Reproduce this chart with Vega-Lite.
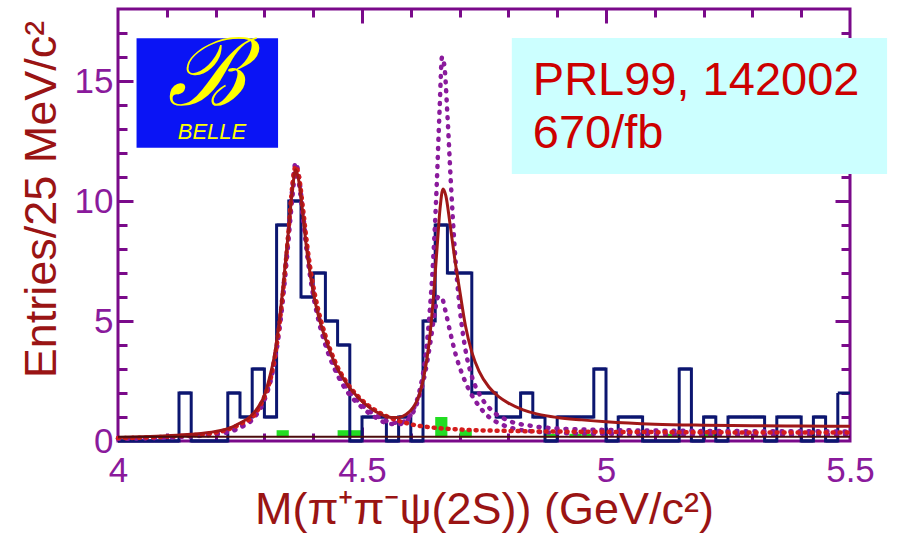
{
  "$schema": "https://vega.github.io/schema/vega-lite/v6.json",
  "width": 732,
  "height": 432,
  "autosize": {"type": "none"},
  "padding": {"left": 118, "top": 9, "right": 47, "bottom": 92},
  "background": "white",
  "config": {
    "view": {"stroke": "#7a0a8a", "strokeWidth": 3},
    "axis": {
      "grid": false,
      "domain": false,
      "labelFont": "Liberation Sans",
      "labelFontSize": 35,
      "labelColor": "#8a1a9c",
      "titleFont": "Liberation Sans",
      "titleFontSize": 45,
      "titleFontWeight": "normal",
      "titleColor": "#9a1414",
      "tickColor": "#7a0a8a",
      "tickWidth": 3
    }
  },
  "resolve": {"axis": {"x": "independent", "y": "independent"}},
  "datasets": {
    "hist": [
      {"m": 4.000, "m2": 4.025, "v": 0}, {"m": 4.025, "m2": 4.050, "v": 0},
      {"m": 4.050, "m2": 4.075, "v": 0}, {"m": 4.075, "m2": 4.100, "v": 0},
      {"m": 4.100, "m2": 4.125, "v": 0}, {"m": 4.125, "m2": 4.150, "v": 2},
      {"m": 4.150, "m2": 4.175, "v": 0}, {"m": 4.175, "m2": 4.200, "v": 0},
      {"m": 4.200, "m2": 4.225, "v": 0}, {"m": 4.225, "m2": 4.250, "v": 2},
      {"m": 4.250, "m2": 4.275, "v": 1}, {"m": 4.275, "m2": 4.300, "v": 3},
      {"m": 4.300, "m2": 4.325, "v": 1}, {"m": 4.325, "m2": 4.350, "v": 9},
      {"m": 4.350, "m2": 4.375, "v": 10}, {"m": 4.375, "m2": 4.400, "v": 6},
      {"m": 4.400, "m2": 4.425, "v": 7}, {"m": 4.425, "m2": 4.450, "v": 5},
      {"m": 4.450, "m2": 4.475, "v": 4}, {"m": 4.475, "m2": 4.500, "v": 0},
      {"m": 4.500, "m2": 4.525, "v": 1}, {"m": 4.525, "m2": 4.550, "v": 1},
      {"m": 4.550, "m2": 4.575, "v": 0}, {"m": 4.575, "m2": 4.600, "v": 1},
      {"m": 4.600, "m2": 4.625, "v": 0}, {"m": 4.625, "m2": 4.650, "v": 5},
      {"m": 4.650, "m2": 4.675, "v": 9}, {"m": 4.675, "m2": 4.700, "v": 7},
      {"m": 4.700, "m2": 4.725, "v": 7}, {"m": 4.725, "m2": 4.750, "v": 2},
      {"m": 4.750, "m2": 4.775, "v": 2}, {"m": 4.775, "m2": 4.800, "v": 1},
      {"m": 4.800, "m2": 4.825, "v": 1}, {"m": 4.825, "m2": 4.850, "v": 2},
      {"m": 4.850, "m2": 4.875, "v": 1}, {"m": 4.875, "m2": 4.900, "v": 0},
      {"m": 4.900, "m2": 4.925, "v": 1}, {"m": 4.925, "m2": 4.950, "v": 1},
      {"m": 4.950, "m2": 4.975, "v": 1}, {"m": 4.975, "m2": 5.000, "v": 3},
      {"m": 5.000, "m2": 5.025, "v": 0}, {"m": 5.025, "m2": 5.050, "v": 1},
      {"m": 5.050, "m2": 5.075, "v": 1}, {"m": 5.075, "m2": 5.100, "v": 0},
      {"m": 5.100, "m2": 5.125, "v": 0}, {"m": 5.125, "m2": 5.150, "v": 0},
      {"m": 5.150, "m2": 5.175, "v": 3}, {"m": 5.175, "m2": 5.200, "v": 0},
      {"m": 5.200, "m2": 5.225, "v": 1}, {"m": 5.225, "m2": 5.250, "v": 0},
      {"m": 5.250, "m2": 5.275, "v": 1}, {"m": 5.275, "m2": 5.300, "v": 1},
      {"m": 5.300, "m2": 5.325, "v": 1}, {"m": 5.325, "m2": 5.350, "v": 0},
      {"m": 5.350, "m2": 5.375, "v": 1}, {"m": 5.375, "m2": 5.400, "v": 1},
      {"m": 5.400, "m2": 5.425, "v": 0}, {"m": 5.425, "m2": 5.450, "v": 1},
      {"m": 5.450, "m2": 5.475, "v": 0}, {"m": 5.475, "m2": 5.500, "v": 2}
    ],
    "sideband": [
      {"m": 4.325, "m2": 4.350, "v": 0.45}, {"m": 4.450, "m2": 4.475, "v": 0.45},
      {"m": 4.475, "m2": 4.500, "v": 0.45}, {"m": 4.650, "m2": 4.675, "v": 1.0},
      {"m": 4.700, "m2": 4.725, "v": 0.45}, {"m": 4.875, "m2": 4.900, "v": 0.3},
      {"m": 4.925, "m2": 4.950, "v": 0.3}, {"m": 4.950, "m2": 4.975, "v": 0.3},
      {"m": 5.125, "m2": 5.150, "v": 0.3}, {"m": 5.200, "m2": 5.225, "v": 0.3}
    ],
    "fit": [
      {"m": 4.000, "v": 0.15}, {"m": 4.050, "v": 0.18}, {"m": 4.100, "v": 0.22},
      {"m": 4.150, "v": 0.28}, {"m": 4.200, "v": 0.40}, {"m": 4.230, "v": 0.55},
      {"m": 4.250, "v": 0.75}, {"m": 4.270, "v": 1.00}, {"m": 4.290, "v": 1.50},
      {"m": 4.300, "v": 1.90}, {"m": 4.310, "v": 2.60}, {"m": 4.320, "v": 3.50},
      {"m": 4.330, "v": 4.90}, {"m": 4.340, "v": 6.80}, {"m": 4.350, "v": 8.90},
      {"m": 4.357, "v": 10.40}, {"m": 4.364, "v": 11.30}, {"m": 4.370, "v": 10.90},
      {"m": 4.378, "v": 9.60}, {"m": 4.386, "v": 8.10}, {"m": 4.395, "v": 6.80},
      {"m": 4.405, "v": 5.70}, {"m": 4.415, "v": 4.90}, {"m": 4.428, "v": 4.10},
      {"m": 4.445, "v": 3.20}, {"m": 4.465, "v": 2.50}, {"m": 4.490, "v": 1.85},
      {"m": 4.515, "v": 1.40}, {"m": 4.540, "v": 1.10}, {"m": 4.560, "v": 0.98},
      {"m": 4.575, "v": 0.98}, {"m": 4.590, "v": 1.10}, {"m": 4.605, "v": 1.40},
      {"m": 4.617, "v": 1.90}, {"m": 4.627, "v": 2.70}, {"m": 4.637, "v": 4.00},
      {"m": 4.646, "v": 5.90}, {"m": 4.654, "v": 8.10}, {"m": 4.660, "v": 9.70},
      {"m": 4.666, "v": 10.50}, {"m": 4.672, "v": 10.20}, {"m": 4.680, "v": 9.10},
      {"m": 4.690, "v": 7.60}, {"m": 4.700, "v": 6.30}, {"m": 4.712, "v": 4.80},
      {"m": 4.725, "v": 3.70}, {"m": 4.740, "v": 2.90}, {"m": 4.760, "v": 2.25},
      {"m": 4.780, "v": 1.85}, {"m": 4.800, "v": 1.58}, {"m": 4.830, "v": 1.30},
      {"m": 4.860, "v": 1.12}, {"m": 4.900, "v": 0.98}, {"m": 4.950, "v": 0.88},
      {"m": 5.000, "v": 0.80}, {"m": 5.100, "v": 0.70}, {"m": 5.200, "v": 0.66},
      {"m": 5.300, "v": 0.64}, {"m": 5.400, "v": 0.62}, {"m": 5.500, "v": 0.61}
    ],
    "solutionA": [
      {"m": 4.000, "v": 0.10}, {"m": 4.100, "v": 0.15}, {"m": 4.200, "v": 0.30},
      {"m": 4.250, "v": 0.60}, {"m": 4.280, "v": 1.10}, {"m": 4.300, "v": 1.80},
      {"m": 4.315, "v": 2.80}, {"m": 4.328, "v": 4.40}, {"m": 4.340, "v": 6.60},
      {"m": 4.350, "v": 8.80}, {"m": 4.357, "v": 10.50}, {"m": 4.364, "v": 11.60},
      {"m": 4.371, "v": 11.00}, {"m": 4.379, "v": 9.50}, {"m": 4.388, "v": 7.90},
      {"m": 4.398, "v": 6.50}, {"m": 4.410, "v": 5.30}, {"m": 4.425, "v": 4.20},
      {"m": 4.445, "v": 3.10}, {"m": 4.470, "v": 2.20}, {"m": 4.500, "v": 1.50},
      {"m": 4.530, "v": 1.05}, {"m": 4.555, "v": 0.80}, {"m": 4.575, "v": 0.75},
      {"m": 4.592, "v": 0.90}, {"m": 4.605, "v": 1.30}, {"m": 4.618, "v": 2.10},
      {"m": 4.628, "v": 3.20}, {"m": 4.638, "v": 5.20}, {"m": 4.646, "v": 7.60},
      {"m": 4.653, "v": 10.60}, {"m": 4.659, "v": 13.80}, {"m": 4.664, "v": 16.00},
      {"m": 4.669, "v": 15.60}, {"m": 4.675, "v": 13.60}, {"m": 4.682, "v": 10.80},
      {"m": 4.690, "v": 8.00}, {"m": 4.700, "v": 5.60}, {"m": 4.712, "v": 3.80},
      {"m": 4.725, "v": 2.70}, {"m": 4.745, "v": 1.80}, {"m": 4.770, "v": 1.20},
      {"m": 4.800, "v": 0.85}, {"m": 4.850, "v": 0.62}, {"m": 4.900, "v": 0.52},
      {"m": 5.000, "v": 0.46}, {"m": 5.200, "v": 0.42}, {"m": 5.500, "v": 0.40}
    ],
    "solutionB": [
      {"m": 4.000, "v": 0.10}, {"m": 4.100, "v": 0.15}, {"m": 4.200, "v": 0.28},
      {"m": 4.250, "v": 0.55}, {"m": 4.280, "v": 1.00}, {"m": 4.300, "v": 1.70},
      {"m": 4.315, "v": 2.70}, {"m": 4.328, "v": 4.20}, {"m": 4.340, "v": 6.30},
      {"m": 4.350, "v": 8.50}, {"m": 4.357, "v": 10.10}, {"m": 4.364, "v": 11.20},
      {"m": 4.371, "v": 10.70}, {"m": 4.379, "v": 9.30}, {"m": 4.388, "v": 7.70},
      {"m": 4.398, "v": 6.30}, {"m": 4.410, "v": 5.10}, {"m": 4.425, "v": 4.00},
      {"m": 4.445, "v": 2.95}, {"m": 4.470, "v": 2.05}, {"m": 4.500, "v": 1.40},
      {"m": 4.530, "v": 0.95}, {"m": 4.555, "v": 0.72}, {"m": 4.575, "v": 0.70},
      {"m": 4.592, "v": 0.85}, {"m": 4.605, "v": 1.20}, {"m": 4.618, "v": 1.90},
      {"m": 4.630, "v": 2.90}, {"m": 4.640, "v": 4.10}, {"m": 4.648, "v": 5.20},
      {"m": 4.656, "v": 6.00}, {"m": 4.663, "v": 6.00}, {"m": 4.670, "v": 5.50},
      {"m": 4.680, "v": 4.60}, {"m": 4.692, "v": 3.60}, {"m": 4.705, "v": 2.80},
      {"m": 4.720, "v": 2.10}, {"m": 4.740, "v": 1.45}, {"m": 4.760, "v": 1.00},
      {"m": 4.785, "v": 0.70}, {"m": 4.810, "v": 0.52}, {"m": 4.850, "v": 0.40},
      {"m": 4.900, "v": 0.34}, {"m": 5.000, "v": 0.30}, {"m": 5.200, "v": 0.28},
      {"m": 5.500, "v": 0.27}
    ],
    "firstPeak": [
      {"m": 4.000, "v": 0.12}, {"m": 4.100, "v": 0.18}, {"m": 4.200, "v": 0.35},
      {"m": 4.250, "v": 0.70}, {"m": 4.280, "v": 1.10}, {"m": 4.300, "v": 1.85},
      {"m": 4.315, "v": 2.80}, {"m": 4.328, "v": 4.40}, {"m": 4.340, "v": 6.60},
      {"m": 4.350, "v": 8.90}, {"m": 4.357, "v": 10.60}, {"m": 4.364, "v": 11.45},
      {"m": 4.371, "v": 11.00}, {"m": 4.379, "v": 9.70}, {"m": 4.388, "v": 8.10},
      {"m": 4.398, "v": 6.70}, {"m": 4.410, "v": 5.50}, {"m": 4.425, "v": 4.40},
      {"m": 4.445, "v": 3.30}, {"m": 4.470, "v": 2.40}, {"m": 4.500, "v": 1.70},
      {"m": 4.530, "v": 1.25}, {"m": 4.560, "v": 0.95}, {"m": 4.600, "v": 0.70},
      {"m": 4.650, "v": 0.55}, {"m": 4.700, "v": 0.48}, {"m": 4.800, "v": 0.42},
      {"m": 5.000, "v": 0.38}, {"m": 5.500, "v": 0.35}
    ]
  },
  "layer": [
    {
      "data": {"name": "sideband"},
      "mark": {"type": "rect", "color": "#22dd22"},
      "encoding": {
        "x": {"field": "m", "type": "quantitative", "scale": {"domain": [4, 5.5], "nice": false, "zero": false},
              "axis": {"orient": "bottom", "values": [4.5, 5.0], "labels": false, "tickSize": -14, "title": null}},
        "x2": {"field": "m2"},
        "y": {"field": "v", "type": "quantitative", "scale": {"domain": [0, 18], "nice": false, "zero": false},
              "axis": {"orient": "left", "values": [5, 10, 15], "labels": false, "tickSize": -15, "title": null}},
        "y2": {"datum": 0.15}
      }
    },
    {
      "data": {"name": "hist"},
      "mark": {"type": "line", "interpolate": "step-after", "color": "#0c1670", "strokeWidth": 3},
      "encoding": {
        "x": {"field": "m", "type": "quantitative", "scale": {"domain": [4, 5.5], "nice": false, "zero": false},
              "axis": {"orient": "bottom", "values": [4, 4.5, 5, 5.5], "format": "~g", "labelFlush": false, "ticks": false,
                       "labelPadding": 12, "title": "M(π⁺π⁻ψ(2S)) (GeV/c²)", "titlePadding": -1}},
        "y": {"field": "v", "type": "quantitative", "scale": {"domain": [0, 18], "nice": false, "zero": false},
              "axis": {"orient": "left", "values": [0, 5, 10, 15], "format": "d", "ticks": false, "labelPadding": 5,
                       "title": "Entries/25 MeV/c²", "titlePadding": 10, "titleY": 190}}
      }
    },
    {
      "data": {"name": "hist"},
      "mark": {"type": "rule", "color": "#0c1670", "strokeWidth": 3},
      "encoding": {
        "x": {"field": "m", "type": "quantitative", "scale": {"domain": [4, 5.5], "nice": false, "zero": false},
              "axis": {"orient": "bottom", "values": [4.1, 4.2, 4.3, 4.4, 4.6, 4.7, 4.8, 4.9, 5.1, 5.2, 5.3, 5.4],
                       "labels": false, "tickSize": -8, "title": null}},
        "x2": {"field": "m2"},
        "y": {"field": "v", "type": "quantitative", "scale": {"domain": [0, 18], "nice": false, "zero": false},
              "axis": {"orient": "left", "values": [1, 2, 3, 4, 6, 7, 8, 9, 11, 12, 13, 14, 16, 17],
                       "labels": false, "tickSize": -9, "title": null}}
      }
    },
    {
      "data": {"name": "solutionB"},
      "mark": {"type": "line", "interpolate": "monotone", "color": "#8a1a9c", "strokeWidth": 4.5, "strokeDash": [1, 8], "strokeCap": "round"},
      "encoding": {
        "x": {"field": "m", "type": "quantitative", "scale": {"domain": [4, 5.5], "nice": false, "zero": false}, "axis": null},
        "y": {"field": "v", "type": "quantitative", "scale": {"domain": [0, 18], "nice": false, "zero": false}, "axis": null}
      }
    },
    {
      "data": {"name": "solutionA"},
      "mark": {"type": "line", "interpolate": "monotone", "color": "#8a1a9c", "strokeWidth": 4.5, "strokeDash": [1, 8], "strokeCap": "round"},
      "encoding": {
        "x": {"field": "m", "type": "quantitative", "scale": {"domain": [4, 5.5], "nice": false, "zero": false},
              "axis": {"orient": "top", "values": [4.5, 5.0], "labels": false, "tickSize": -14, "title": null}},
        "y": {"field": "v", "type": "quantitative", "scale": {"domain": [0, 18], "nice": false, "zero": false},
              "axis": {"orient": "right", "values": [5, 10, 15], "labels": false, "tickSize": -15, "title": null}}
      }
    },
    {
      "data": {"name": "firstPeak"},
      "mark": {"type": "line", "interpolate": "monotone", "color": "#d41c1c", "strokeWidth": 4.5, "strokeDash": [1, 6], "strokeCap": "round"},
      "encoding": {
        "x": {"field": "m", "type": "quantitative", "scale": {"domain": [4, 5.5], "nice": false, "zero": false}, "axis": null},
        "y": {"field": "v", "type": "quantitative", "scale": {"domain": [0, 18], "nice": false, "zero": false}, "axis": null}
      }
    },
    {
      "data": {"name": "fit"},
      "mark": {"type": "line", "interpolate": "monotone", "color": "#a01818", "strokeWidth": 3},
      "encoding": {
        "x": {"field": "m", "type": "quantitative", "scale": {"domain": [4, 5.5], "nice": false, "zero": false},
              "axis": {"orient": "top", "values": [4.1, 4.2, 4.3, 4.4, 4.6, 4.7, 4.8, 4.9, 5.1, 5.2, 5.3, 5.4],
                       "labels": false, "tickSize": -8, "title": null}},
        "y": {"field": "v", "type": "quantitative", "scale": {"domain": [0, 18], "nice": false, "zero": false},
              "axis": {"orient": "right", "values": [1, 2, 3, 4, 6, 7, 8, 9, 11, 12, 13, 14, 16, 17],
                       "labels": false, "tickSize": -9, "title": null}}
      }
    },
    {
      "data": {"values": [{}]},
      "mark": {"type": "rule", "color": "#4a0c0c", "strokeWidth": 2},
      "encoding": {
        "x": {"datum": 4.0, "scale": {"domain": [4, 5.5], "nice": false, "zero": false}, "axis": null},
        "x2": {"datum": 5.5},
        "y": {"datum": 0.18, "scale": {"domain": [0, 18], "nice": false, "zero": false}, "axis": null}
      }
    },
    {
      "data": {"values": [{}]},
      "mark": {"type": "rect", "color": "#ccffff"},
      "encoding": {
        "x": {"datum": 4.807, "scale": {"domain": [4, 5.5], "nice": false, "zero": false}, "axis": null},
        "x2": {"datum": 5.576},
        "y": {"datum": 16.79, "scale": {"domain": [0, 18], "nice": false, "zero": false}, "axis": null},
        "y2": {"datum": 11.125}
      }
    },
    {
      "data": {"values": [{}]},
      "mark": {"type": "text", "text": "PRL99, 142002", "font": "Liberation Sans", "fontSize": 47, "color": "#cc0000", "align": "left", "baseline": "alphabetic"},
      "encoding": {
        "x": {"datum": 4.85, "scale": {"domain": [4, 5.5], "nice": false, "zero": false}, "axis": null},
        "y": {"datum": 14.42, "scale": {"domain": [0, 18], "nice": false, "zero": false}, "axis": null}
      }
    },
    {
      "data": {"values": [{}]},
      "mark": {"type": "text", "text": "670/fb", "font": "Liberation Sans", "fontSize": 47, "color": "#cc0000", "align": "left", "baseline": "alphabetic"},
      "encoding": {
        "x": {"datum": 4.85, "scale": {"domain": [4, 5.5], "nice": false, "zero": false}, "axis": null},
        "y": {"datum": 12.21, "scale": {"domain": [0, 18], "nice": false, "zero": false}, "axis": null}
      }
    },
    {
      "data": {"values": [{}]},
      "mark": {"type": "rect", "color": "#0a14f5"},
      "encoding": {
        "x": {"datum": 4.038, "scale": {"domain": [4, 5.5], "nice": false, "zero": false}, "axis": null},
        "x2": {"datum": 4.328},
        "y": {"datum": 16.78, "scale": {"domain": [0, 18], "nice": false, "zero": false}, "axis": null},
        "y2": {"datum": 12.22}
      }
    },
    {
      "data": {"values": [{}]},
      "mark": {"type": "text", "text": "ℬ", "font": "DejaVu Serif", "fontStyle": "italic", "fontSize": 94, "color": "#ffff00", "align": "center", "baseline": "alphabetic"},
      "encoding": {
        "x": {"datum": 4.182, "scale": {"domain": [4, 5.5], "nice": false, "zero": false}, "axis": null},
        "y": {"datum": 14.0, "scale": {"domain": [0, 18], "nice": false, "zero": false}, "axis": null}
      }
    },
    {
      "data": {"values": [{}]},
      "mark": {"type": "text", "text": "BELLE", "font": "Liberation Sans", "fontStyle": "italic", "fontSize": 22, "color": "#ffff00", "align": "center", "baseline": "alphabetic"},
      "encoding": {
        "x": {"datum": 4.1926, "scale": {"domain": [4, 5.5], "nice": false, "zero": false}, "axis": null},
        "y": {"datum": 12.58, "scale": {"domain": [0, 18], "nice": false, "zero": false}, "axis": null}
      }
    }
  ]
}
